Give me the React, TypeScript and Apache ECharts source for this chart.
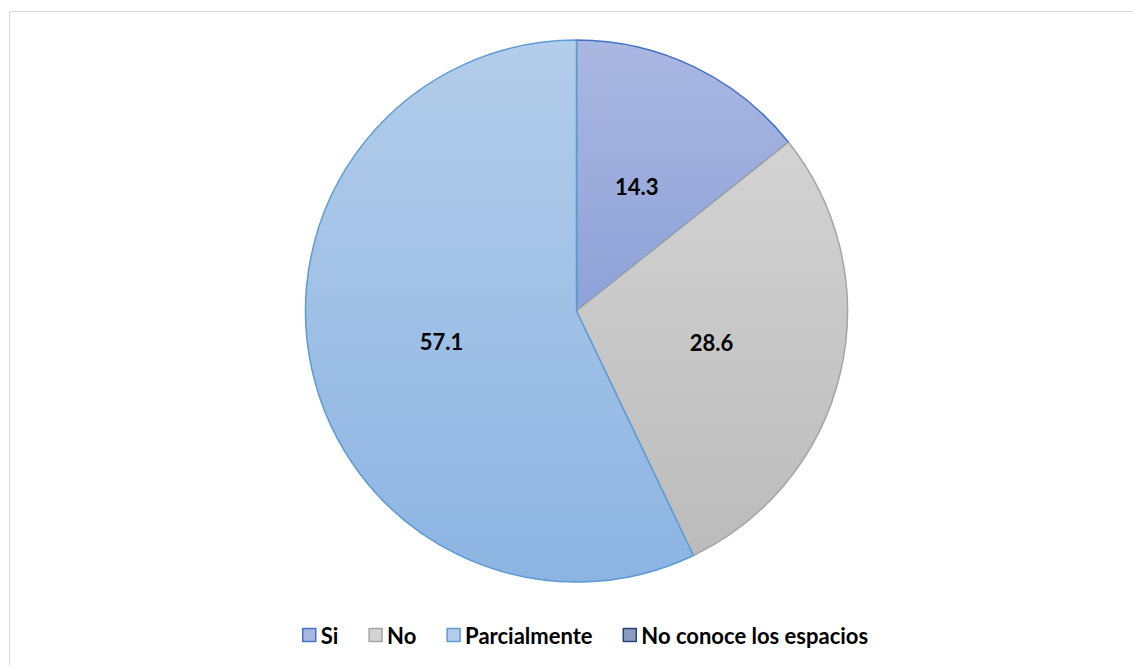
import React, { useEffect, useRef } from "react";
import * as echarts from "echarts";

const categories = ["Si", "No", "Parcialmente", "No conoce los espacios"];
const values = [14.3, 28.6, 57.1, 0];

const grad = (a: string, b: string) =>
  new echarts.graphic.LinearGradient(0, 0, 0, 1, [
    { offset: 0, color: a },
    { offset: 1, color: b },
  ]);

const fills = [
  ["#AAB7E1", "#8DA2D8"],
  ["#D3D3D3", "#BBBBBB"],
  ["#B3CDEA", "#8CB4E2"],
  ["#8A9BBB", "#6E81A6"],
];
const borders = ["#4472C4", "#A5A5A5", "#5B9BD5", "#264478"];

export default function App() {
  const ref = useRef<HTMLDivElement>(null);
  useEffect(() => {
    const chart = echarts.init(ref.current!, undefined, { renderer: "svg" });
    const font = "Lato, 'Open Sans', sans-serif";
    chart.setOption({
      animation: false,
      backgroundColor: "#ffffff",
      graphic: [
        {
          type: "rect",
          shape: { x: 9.5, y: 11.5, width: 1300, height: 800 },
          style: { fill: "none", stroke: "#D9D9D9", lineWidth: 1 },
          silent: true,
        },
      ],
      legend: {
        top: 619,
        left: 297,
        icon: "rect",
        itemWidth: 13,
        itemHeight: 13,
        itemGap: 30,
        textStyle: { fontFamily: font, fontWeight: "bold", fontSize: 22, color: "#000" },
        data: categories.map((c, i) => ({
          name: c,
          itemStyle: { color: fills[i][0], borderColor: borders[i], borderWidth: 1.5 },
        })),
      },
      series: [
        {
          type: "pie",
          center: [576.5, 311],
          radius: [0, 271],
          startAngle: 90,
          clockwise: true,
          avoidLabelOverlap: false,
          label: {
            show: true,
            position: "inside",
            formatter: (p: any) => (p.value === 0 ? "" : p.value.toFixed(1)),
            fontFamily: font,
            fontWeight: "bold",
            fontSize: 22,
            color: "#000",
          },
          labelLine: { show: false },
          emphasis: { disabled: true },
          data: categories.map((c, i) => ({
            name: c,
            value: values[i],
            itemStyle: {
              color: grad(fills[i][0], fills[i][1]),
              borderColor: borders[i],
              borderWidth: values[i] === 0 ? 0 : 1.5,
            },
          })),
        },
      ],
    });
    return () => chart.dispose();
  }, []);
  return (
    <div
      ref={ref}
      style={{ position: "fixed", left: 0, top: 0, width: 1133, height: 665 }}
    />
  );
}
